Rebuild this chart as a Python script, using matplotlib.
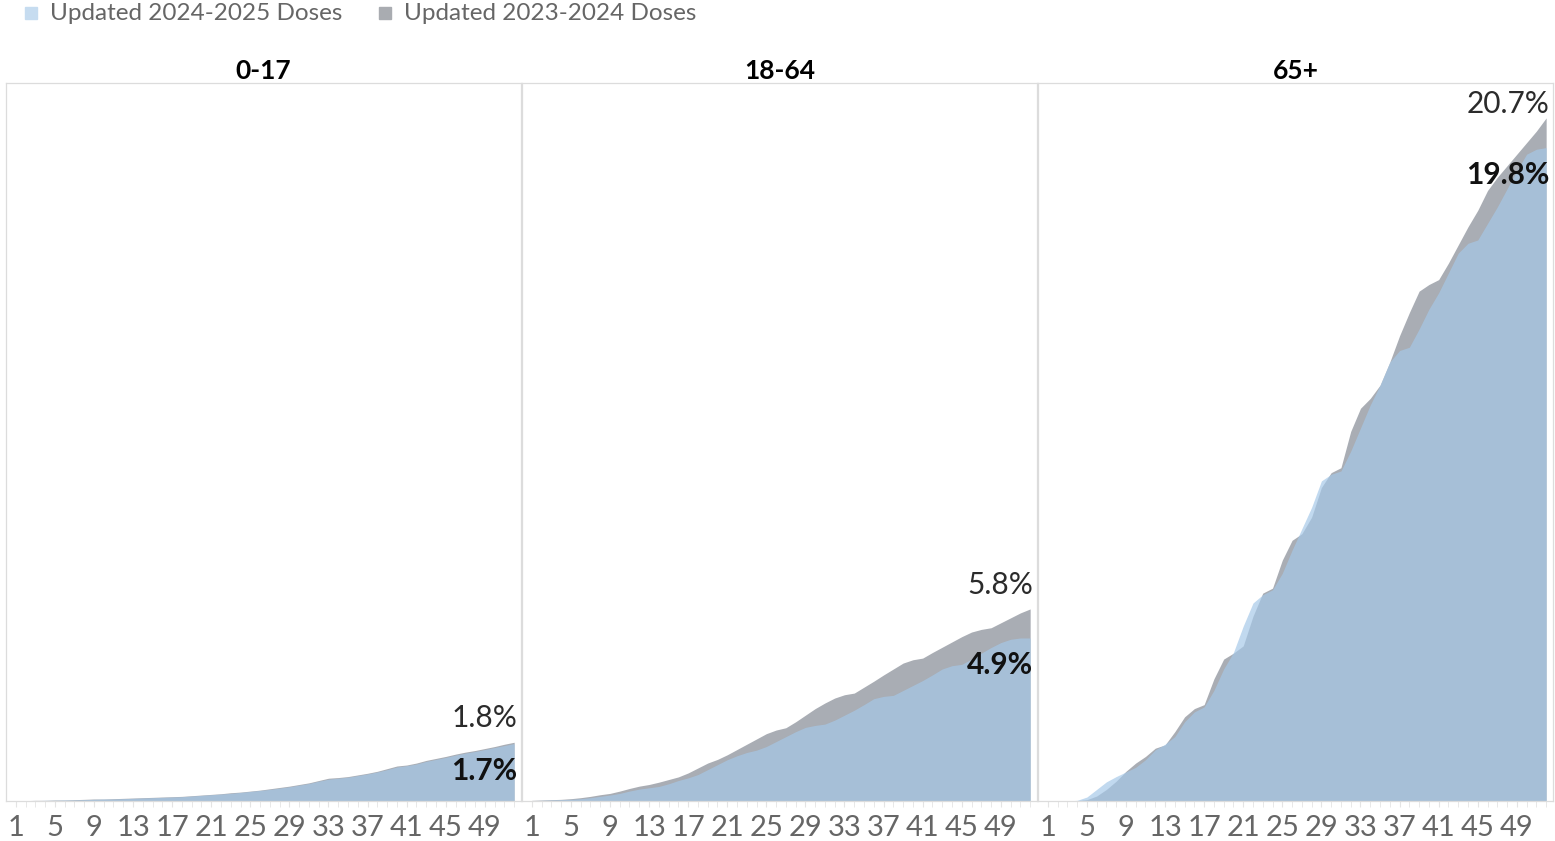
import matplotlib
matplotlib.use("Agg")
import matplotlib.pyplot as plt
from matplotlib.patches import Rectangle

plt.rcParams['font.family'] = ['Lato', 'DejaVu Sans']

weeks = list(range(1, 53))
groups = ['0-17', '18-64', '65+']

# cumulative % of population vaccinated, by week of season
doses_2324 = {
    '0-17': [0.01, 0.01, 0.02, 0.02, 0.03, 0.03, 0.04, 0.05, 0.06, 0.06,
             0.07, 0.08, 0.09, 0.10, 0.11, 0.12, 0.13, 0.14, 0.16, 0.18,
             0.20, 0.22, 0.25, 0.27, 0.30, 0.33, 0.37, 0.41, 0.45, 0.50,
             0.55, 0.62, 0.69, 0.71, 0.74, 0.79, 0.84, 0.90, 0.98, 1.06,
             1.09, 1.15, 1.23, 1.29, 1.35, 1.42, 1.48, 1.53, 1.59, 1.65,
             1.72, 1.78],
    '18-64': [0.02, 0.03, 0.04, 0.05, 0.07, 0.10, 0.14, 0.19, 0.23, 0.30,
              0.38, 0.45, 0.50, 0.57, 0.65, 0.73, 0.85, 1.00, 1.15, 1.26,
              1.40, 1.56, 1.72, 1.88, 2.04, 2.15, 2.22, 2.40, 2.60, 2.80,
              2.97, 3.12, 3.22, 3.27, 3.45, 3.63, 3.82, 4.00, 4.18, 4.28,
              4.33, 4.50, 4.66, 4.82, 4.98, 5.12, 5.20, 5.25, 5.40, 5.55,
              5.70, 5.82],
    '65+': [0.0, 0.0, 0.0, 0.01, 0.04, 0.15, 0.35, 0.60, 0.90, 1.15,
            1.35, 1.60, 1.70, 2.10, 2.55, 2.80, 2.92, 3.70, 4.30, 4.48,
            4.70, 5.60, 6.30, 6.45, 7.30, 7.90, 8.10, 8.60, 9.50, 9.95,
            10.10, 11.20, 11.90, 12.20, 12.60, 13.30, 14.10, 14.80, 15.45, 15.65,
            15.80, 16.30, 16.85, 17.40, 17.90, 18.50, 18.90, 19.25, 19.60, 19.95,
            20.30, 20.70],
}
doses_2425 = {
    '0-17': [0.01, 0.01, 0.01, 0.02, 0.02, 0.03, 0.03, 0.04, 0.05, 0.06,
             0.06, 0.07, 0.08, 0.09, 0.10, 0.11, 0.12, 0.13, 0.15, 0.17,
             0.19, 0.21, 0.23, 0.26, 0.29, 0.32, 0.35, 0.39, 0.43, 0.48,
             0.53, 0.60, 0.66, 0.69, 0.72, 0.77, 0.82, 0.88, 0.95, 1.03,
             1.07, 1.12, 1.20, 1.26, 1.32, 1.39, 1.45, 1.50, 1.56, 1.62,
             1.68, 1.74],
    '18-64': [0.01, 0.02, 0.03, 0.04, 0.05, 0.07, 0.10, 0.14, 0.18, 0.23,
              0.30, 0.36, 0.40, 0.44, 0.52, 0.62, 0.70, 0.80, 0.95, 1.10,
              1.25, 1.37, 1.47, 1.54, 1.65, 1.80, 1.95, 2.10, 2.23, 2.29,
              2.33, 2.45, 2.60, 2.75, 2.92, 3.10, 3.17, 3.20, 3.35, 3.50,
              3.65, 3.82, 4.00, 4.10, 4.14, 4.30, 4.48, 4.65, 4.80, 4.90,
              4.94, 4.94],
    '65+': [0.0, 0.0, 0.0, 0.02, 0.12, 0.35, 0.58, 0.74, 0.88, 1.02,
            1.25, 1.55, 1.72, 1.95, 2.40, 2.70, 2.85, 3.35, 4.00, 4.50,
            5.30, 6.00, 6.25, 6.40, 6.90, 7.60, 8.25, 8.90, 9.70, 9.90,
            10.00, 10.60, 11.30, 12.00, 12.60, 13.30, 13.65, 13.75, 14.30, 14.90,
            15.40, 16.00, 16.60, 16.90, 17.00, 17.50, 18.00, 18.55, 19.10, 19.60,
            19.75, 19.80],
}
tick_weeks = list(range(1, 53, 4))

gray = '#a9adb4'
blue = '#a5c8e8'
W, H = 1555, 841
fig = plt.figure(figsize=(W / 100, H / 100), dpi=100)

px_per_pct = 33.0
ymax = 718 / px_per_pct
lefts = [6, 522, 1038]

for g, left in zip(groups, lefts):
    ax = fig.add_axes([left / W, 40 / H, 515 / W, 718 / H])
    old = doses_2324[g]
    new = doses_2425[g]
    ax.fill_between(weeks, old, color=gray, lw=0, zorder=1)
    ax.fill_between(weeks, new, color=blue, alpha=0.69, lw=0, zorder=2)
    ax.set_xlim(0, 52.7)
    ax.set_ylim(0, ymax)
    ax.set_yticks([])
    ax.set_xticks(tick_weeks)
    ax.set_xticks(weeks, minor=True)
    ax.tick_params(axis='x', which='both', length=4, color='#e4e4e4',
                   labelsize=21, labelcolor='#666666', pad=6)
    for s in ax.spines.values():
        s.set_color('#dcdcdc')
        s.set_linewidth(0.9)
    ax.set_title(g, fontsize=19, fontweight='bold', pad=-3)

    # end-of-season labels
    x_end = weeks[-1]
    up = 10 if old[-1] < 0.85 * ymax else 0
    ax.annotate(f'{old[-1]:.1f}%', (x_end, old[-1]), xytext=(3, up),
                textcoords='offset pixels', ha='right', va='bottom',
                fontsize=21.5, color='#2b2b2b')
    ax.annotate(f'{new[-1]:.1f}%', (x_end, new[-1]), xytext=(3, -13),
                textcoords='offset pixels', ha='right', va='top',
                fontsize=21.5, fontweight='bold', color='#111111')

# legend across the top
legend_items = [('Updated 2024-2025 Doses', '#c6dcf0', 25),
                ('Updated 2023-2024 Doses', '#a9acb1', 379)]
for label, col, x0 in legend_items:
    fig.patches.append(Rectangle((x0 / W, 1 - 19 / H), 12 / W, 12 / H,
                                 transform=fig.transFigure, color=col))
    fig.text((x0 + 25) / W, 1 - 13 / H, label, fontsize=17.5, color='#666666',
             va='center', ha='left')

fig.savefig('out.png', dpi=100)
